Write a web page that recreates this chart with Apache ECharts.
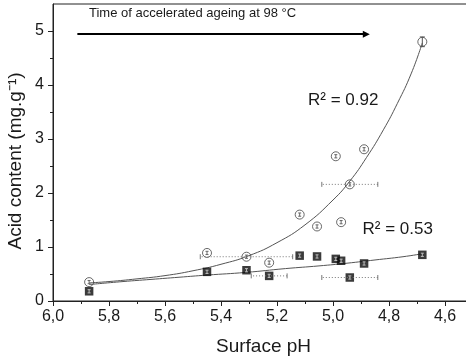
<!DOCTYPE html>
<html>
<head>
<meta charset="utf-8">
<script src="https://cdn.jsdelivr.net/npm/echarts@6/dist/echarts.min.js"></script>
<style>html,body{margin:0;padding:0;background:#fff}#c{width:466px;height:358px}</style>
</head>
<body>
<div id="c"></div>
<script>
// ---- data ----
const surfacePH = [5.871, 5.450, 5.309, 5.228, 5.119, 5.057, 4.990, 4.971, 4.940, 4.889, 4.681];
const acidCircle = [0.35, 0.89, 0.82, 0.71, 1.60, 1.38, 2.68, 1.46, 2.16, 2.81, 4.80];
const acidSquare = [0.18, 0.54, 0.57, 0.465, 0.84, 0.825, 0.78, 0.745, 0.435, 0.695, 0.855];
const phErrCircle = [0, 0, 0.165, 0, 0, 0, 0, 0, 0.10, 0, 0];
const acidErrCircle = [0.03, 0.03, 0.03, 0.03, 0.03, 0.03, 0.03, 0.03, 0.03, 0.03, 0.09];
const phErrSquare = [0, 0, 0, 0.064, 0, 0, 0, 0, 0.10, 0, 0];
const acidErrSquare = [0.03, 0.03, 0.03, 0.03, 0.03, 0.03, 0.03, 0.03, 0.03, 0.03, 0.03];
const fitCirclePH = [5.871, 5.80, 5.70, 5.60, 5.50, 5.40, 5.30, 5.20, 5.10, 5.00, 4.94, 4.88, 4.82, 4.77, 4.72, 4.681];
const fitCircleAcid = [0.335, 0.36, 0.41, 0.47, 0.56, 0.68, 0.84, 1.08, 1.41, 1.87, 2.22, 2.66, 3.17, 3.66, 4.22, 4.78];
const fitSquarePH = [5.871, 5.75, 5.65, 5.55, 5.45, 5.31, 5.17, 5.05, 4.95, 4.85, 4.75, 4.681];
const fitSquareAcid = [0.305, 0.36, 0.40, 0.44, 0.48, 0.53, 0.60, 0.65, 0.70, 0.76, 0.82, 0.875];
const yMajorTicks = [0, 1, 2, 3, 4, 5];
const yMinorTicks = [0.5, 1.5, 2.5, 3.5, 4.5];
const arrowStart = [5.913, 4.94];
const arrowEnd = [4.881, 4.94];
const r2Labels = ['R² = 0.92', 'R² = 0.53'];

const FONT = "'Liberation Sans', Arial, sans-serif";
const chart = echarts.init(document.getElementById('c'), null, {renderer: 'canvas'});

function zip(a, b) { return a.map((v, i) => [v, b[i]]); }
function errData(xs, ys, xe, ye) { return xs.map((v, i) => [v, ys[i], xe[i], ye[i]]); }

function errSeries(data, vColor) {
  return {
    type: 'custom',
    z: 5,
    silent: true,
    encode: {x: 0, y: 1},
    data: data,
    renderItem: function (params, api) {
      const x = api.value(0), y = api.value(1), dx = api.value(2), dy = api.value(3);
      const children = [];
      if (dx > 0) {
        const a = api.coord([x - dx, y]), b = api.coord([x + dx, y]);
        children.push({type: 'line', shape: {x1: a[0], y1: a[1], x2: b[0], y2: b[1]},
          style: {stroke: '#777', lineWidth: 1, lineDash: [1, 2]}});
        children.push({type: 'line', shape: {x1: a[0], y1: a[1] - 2.5, x2: a[0], y2: a[1] + 2.5},
          style: {stroke: '#777', lineWidth: 1}});
        children.push({type: 'line', shape: {x1: b[0], y1: b[1] - 2.5, x2: b[0], y2: b[1] + 2.5},
          style: {stroke: '#777', lineWidth: 1}});
      }
      if (dy > 0) {
        const p = api.coord([x, y - dy]), q = api.coord([x, y + dy]);
        const big = dy > 0.05;
        const col = big ? '#555' : vColor;
        const hw = big ? 2.5 : 1.5;
        children.push({type: 'line', shape: {x1: p[0], y1: p[1], x2: q[0], y2: q[1]},
          style: {stroke: col, lineWidth: 1}});
        children.push({type: 'line', shape: {x1: p[0] - hw, y1: p[1], x2: p[0] + hw, y2: p[1]},
          style: {stroke: col, lineWidth: 1}});
        children.push({type: 'line', shape: {x1: q[0] - hw, y1: q[1], x2: q[0] + hw, y2: q[1]},
          style: {stroke: col, lineWidth: 1}});
      }
      return {type: 'group', children: children};
    }
  };
}

const axisText = {fontFamily: FONT, fontSize: 16, color: '#1a1a1a'};

const option = {
  animation: false,
  backgroundColor: '#fff',
  grid: {left: 53, top: 4, right: -35, bottom: 57, show: true, borderColor: '#222', borderWidth: 1,
         backgroundColor: 'transparent', containLabel: false, outerBoundsMode: 'none'},
  xAxis: {
    type: 'value', min: 4.4, max: 6.0, interval: 0.2, inverse: true,
    axisLine: {show: true, onZero: false, lineStyle: {color: '#222', width: 1}},
    axisTick: {show: true, inside: false, length: 5, lineStyle: {color: '#222'}},
    minorTick: {show: true, splitNumber: 2, length: 3, lineStyle: {color: '#222'}},
    splitLine: {show: false},
    axisLabel: Object.assign({margin: 8, formatter: v => v.toFixed(1).replace('.', ',')}, axisText)
  },
  yAxis: [{
    type: 'value', min: 0, max: 5.5,
    axisLine: {show: true, onZero: false, lineStyle: {color: '#222', width: 1}},
    axisTick: {show: true, inside: false, length: 5, customValues: yMajorTicks, lineStyle: {color: '#222'}},
    splitLine: {show: false},
    axisLabel: Object.assign({margin: 9, customValues: yMajorTicks, formatter: v => String(v)}, axisText)
  }, {
    type: 'value', min: 0, max: 5.5, position: 'left', offset: 0,
    axisLine: {show: false},
    axisTick: {show: true, inside: false, length: 3, customValues: yMinorTicks, lineStyle: {color: '#222'}},
    splitLine: {show: false},
    axisLabel: {show: false}
  }],
  series: [
    {
      type: 'line', smooth: true, symbol: 'none', silent: true, z: 2,
      data: zip(fitCirclePH, fitCircleAcid),
      lineStyle: {color: '#555', width: 1},
      markLine: {
        silent: true, symbol: ['none', 'triangle'], symbolSize: [7, 7],
        label: {show: false}, emphasis: {disabled: true},
        lineStyle: {color: '#000', width: 2, type: 'solid'},
        data: [[{coord: arrowStart}, {coord: arrowEnd}]]
      }
    },
    {
      type: 'line', smooth: true, symbol: 'none', silent: true, z: 2,
      data: zip(fitSquarePH, fitSquareAcid),
      lineStyle: {color: '#555', width: 1}
    },
    {
      type: 'scatter', symbol: 'circle', symbolSize: 9, z: 3,
      data: zip(surfacePH, acidCircle),
      itemStyle: {color: 'rgba(255,255,255,0)', borderColor: '#444', borderWidth: 1}
    },
    {
      type: 'scatter', symbol: 'rect', symbolSize: 8.5, z: 3,
      data: zip(surfacePH, acidSquare),
      itemStyle: {color: '#0a0a0a'}
    },
    errSeries(errData(surfacePH, acidCircle, phErrCircle, acidErrCircle), '#666'),
    errSeries(errData(surfacePH, acidSquare, phErrSquare, acidErrSquare), '#bbb')
  ],
  graphic: [
    {type: 'text', x: 16, y: 161, rotation: Math.PI / 2,
     style: {text: 'Acid content (mg.g⁻¹)', align: 'center', verticalAlign: 'middle', fontFamily: FONT, fontSize: 19, fill: '#1a1a1a'}},
    {type: 'text', x: 263.5, y: 346.5,
     style: {text: 'Surface pH', align: 'center', verticalAlign: 'middle', fontFamily: FONT, fontSize: 19, fill: '#1a1a1a'}},
    {type: 'text', x: 308, y: 100,
     style: {text: r2Labels[0], align: 'left', verticalAlign: 'middle', fontFamily: FONT, fontSize: 17, fill: '#1a1a1a'}},
    {type: 'text', x: 362.5, y: 229,
     style: {text: r2Labels[1], align: 'left', verticalAlign: 'middle', fontFamily: FONT, fontSize: 17, fill: '#1a1a1a'}},
    {type: 'text', x: 89, y: 13.5,
     style: {text: 'Time of accelerated ageing at 98 °C', align: 'left', verticalAlign: 'middle', fontFamily: FONT, fontSize: 13, fill: '#1a1a1a'}}
  ]
};
chart.setOption(option);
</script>
</body>
</html>
